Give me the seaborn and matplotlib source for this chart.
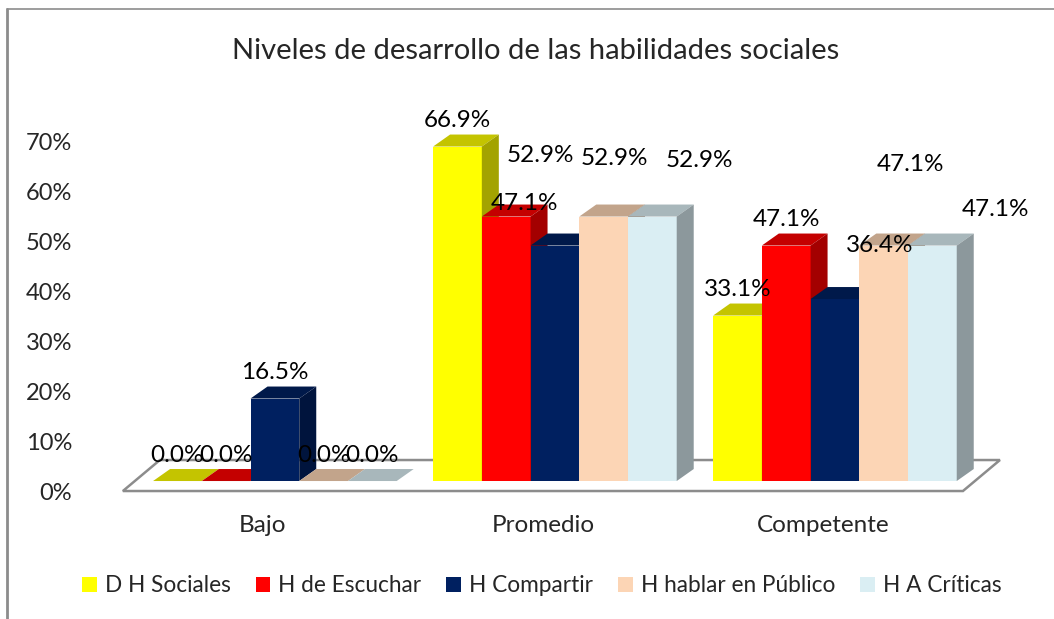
import numpy as np
import pandas as pd
import matplotlib
matplotlib.use('Agg')
import matplotlib.pyplot as plt
import matplotlib.colors as mcolors
import matplotlib.transforms as mtransforms
from matplotlib.patches import Polygon, Patch
from matplotlib.lines import Line2D
import seaborn as sns

# data
niveles = ['Bajo', 'Promedio', 'Competente']
series = ['D H Sociales', 'H de Escuchar', 'H Compartir', 'H hablar en Público', 'H A Críticas']
d_h_sociales = [0.0, 66.9, 33.1]
h_escuchar = [0.0, 52.9, 47.1]
h_compartir = [16.5, 47.1, 36.4]
h_hablar = [0.0, 52.9, 47.1]
h_criticas = [0.0, 52.9, 47.1]
y_ticks = [0, 10, 20, 30, 40, 50, 60, 70]

colores = ['#FFFF00', '#FF0000', '#002060', '#FCD5B5', '#DAEEF3']

valores = [d_h_sociales, h_escuchar, h_compartir, h_hablar, h_criticas]
df = pd.DataFrame({
    'nivel': np.repeat([niveles], len(series), axis=0).ravel(),
    'serie': np.repeat(series, len(niveles)),
    'valor': np.concatenate(valores),
})

sns.set_style('white')
plt.rcParams['font.family'] = ['Lato', 'DejaVu Sans']

fig = plt.figure(figsize=(10.54, 6.19), dpi=100)
ax = fig.add_axes([0.1091, 0.1922, 0.8491, 0.6058])
sns.barplot(data=df, x='nivel', y='valor', hue='serie', order=niveles, hue_order=series,
            palette=colores, width=0.87, saturation=1, legend=False, ax=ax, zorder=2)
ax.set_xlim(-0.571, 2.625)
ax.set_ylim(-3.8, 71.2)
for s in ax.spines.values():
    s.set_visible(False)

# pixel -> data scale for the fake 3D depth
p0 = ax.transData.transform((0, 0))
p1 = ax.transData.transform((1, 1))
px_x, px_y = p1[0] - p0[0], p1[1] - p0[1]
ddx, ddy = 17 / px_x, 12 / px_y


def sombra(c, f):
    r, g, b = mcolors.to_rgb(c)
    return (r * f, g * f, b * f)


# floor
fl, fr = -0.5, len(niveles) - 0.5
f_front = (-12 / px_x, -10 / px_y)
f_back = (25 / px_x, 21 / px_y)
piso = Polygon([(fl + f_front[0], f_front[1]), (fr + f_front[0], f_front[1]),
                (fr + f_back[0], f_back[1]), (fl + f_back[0], f_back[1])],
               closed=True, facecolor='white', edgecolor='#8C8C8C', lw=1.8, zorder=1)
ax.add_patch(piso)

# label shifts (pixels) where Excel moved the label away from the bar
label_shift = {(1, 1): (34, 61), (1, 2): (-30, 42), (1, 3): (11, 58), (1, 4): (47, 56),
               (2, 2): (45, 54), (2, 3): (27, 81), (2, 4): (63, 36)}

for si, cont in enumerate(ax.containers):
    col = colores[si]
    for ci, bar in enumerate(cont.patches):
        x0 = bar.get_x()
        w = bar.get_width()
        h = bar.get_height()
        z = 2 + x0 * 0.01 + 1
        bar.set_zorder(z)
        bar.set_edgecolor('none')
        top = Polygon([(x0, h), (x0 + w, h), (x0 + w + ddx, h + ddy), (x0 + ddx, h + ddy)],
                      closed=True, facecolor=sombra(col, 0.77), edgecolor='none', zorder=z)
        side = Polygon([(x0 + w, 0), (x0 + w + ddx, ddy), (x0 + w + ddx, h + ddy), (x0 + w, h)],
                       closed=True, facecolor=sombra(col, 0.64), edgecolor='none', zorder=z)
        ax.add_patch(top)
        ax.add_patch(side)
        dx, dy = label_shift.get((ci, si), (0, 26))
        ax.annotate(f'{h:.1f}%', xy=(x0 + w / 2, h), xytext=(dx, dy), textcoords='offset pixels',
                    ha='center', va='center', fontsize=17.5, color='black', zorder=20)

ax.set_yticks(y_ticks)
ax.set_yticklabels([f'{v}%' for v in y_ticks])
ax.tick_params(axis='y', length=0, pad=31, labelsize=17)
ax.tick_params(axis='x', length=0, pad=11, labelsize=17.5)
ax.set_xlabel('')
ax.set_ylabel('')
off_y = mtransforms.ScaledTranslation(0, -10 / 100, fig.dpi_scale_trans)
for lab in ax.get_yticklabels():
    lab.set_transform(lab.get_transform() + off_y)
off_x = mtransforms.ScaledTranslation(-12 / 100, 0, fig.dpi_scale_trans)
for lab in ax.get_xticklabels():
    lab.set_transform(lab.get_transform() + off_x)

fig.text(0.508, 1 - 51 / 619, 'Niveles de desarrollo de las habilidades sociales',
         ha='center', va='center', fontsize=21)

handles = [Patch(facecolor=c, edgecolor='none', label=s) for c, s in zip(colores, series)]
fig.legend(handles=handles, loc='center', bbox_to_anchor=(0.514, 1 - 586 / 619), ncol=5,
           frameon=False, fontsize=16.3, handlelength=0.65, handleheight=0.65,
           handletextpad=0.35, columnspacing=1.1)

# chart border (top and left visible)
fig.add_artist(Line2D([7 / 1054, 1], [1 - 9 / 619, 1 - 9 / 619], color='#8C8C8C', lw=1.2))
fig.add_artist(Line2D([7 / 1054, 7 / 1054], [0, 1 - 9 / 619], color='#8C8C8C', lw=2))

fig.savefig('out.png', dpi=100)
